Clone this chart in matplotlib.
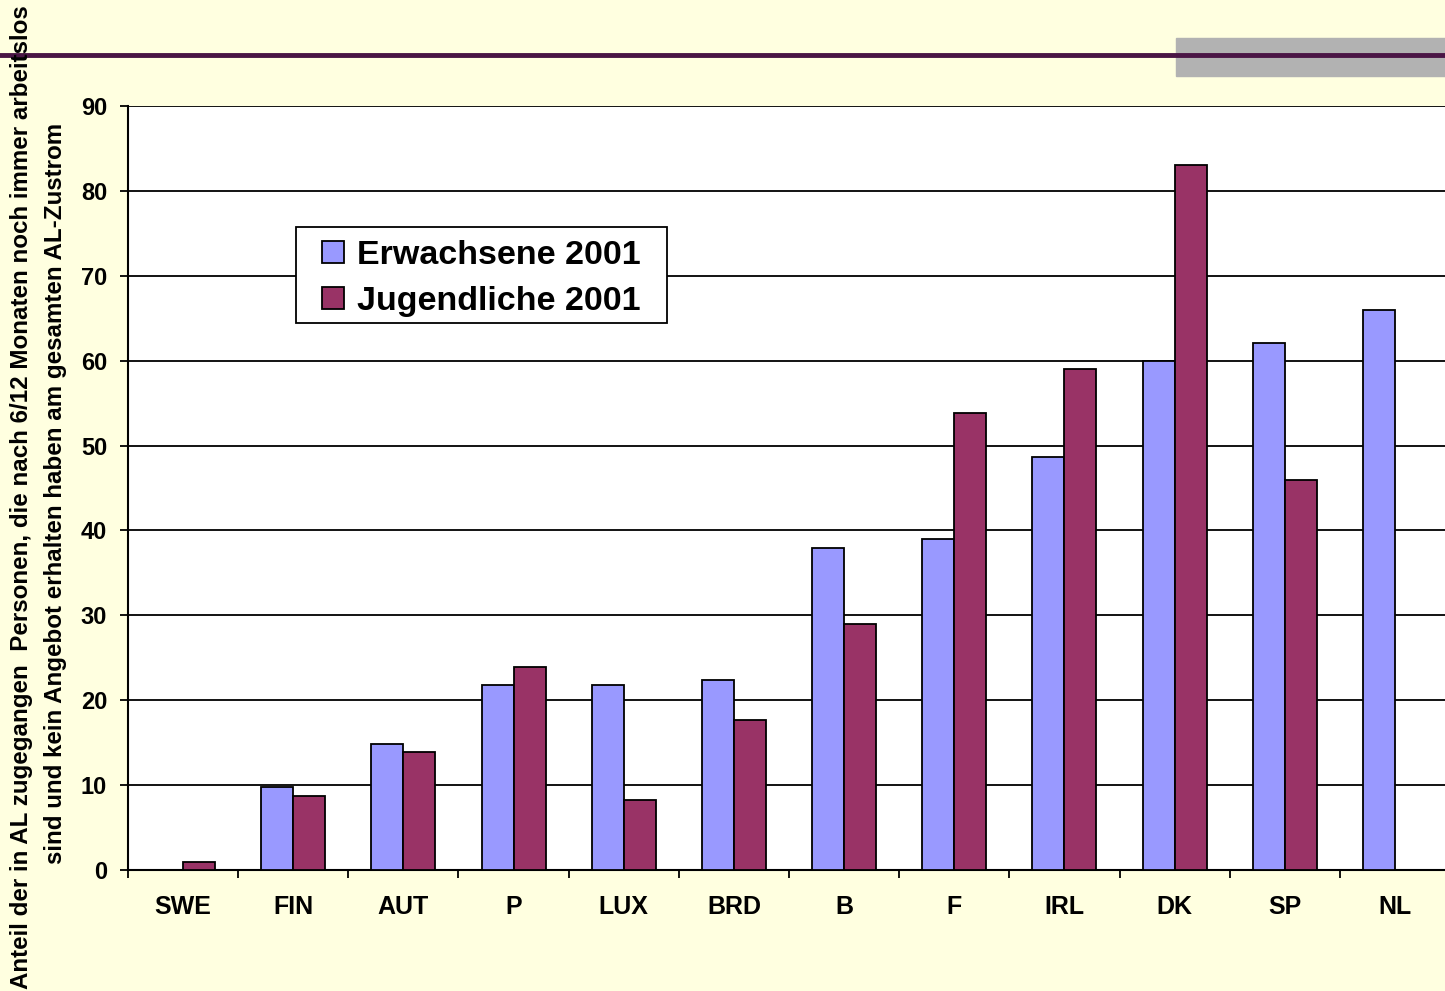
import numpy as np
import matplotlib.pyplot as plt
from matplotlib import font_manager
from matplotlib.patches import Rectangle
from matplotlib.lines import Line2D

# data
laender = ['SWE', 'FIN', 'AUT', 'P', 'LUX', 'BRD', 'B', 'F', 'IRL', 'DK', 'SP', 'NL']
erwachsene = [0, 9.8, 14.8, 21.8, 21.8, 22.4, 37.9, 39.0, 48.6, 60.0, 62.1, 66.0]
jugendliche = [1.0, 8.7, 13.9, 23.9, 8.2, 17.7, 29.0, 53.8, 59.0, 83.0, 45.9, 0]
y_ticks = [0, 10, 20, 30, 40, 50, 60, 70, 80, 90]

plt.rcParams['font.family'] = ['Liberation Sans', 'DejaVu Sans']
plt.rcParams['font.weight'] = 'bold'

W, H = 1445, 991
bg = '#FFFFE0'
fig = plt.figure(figsize=(W/100, H/100), dpi=100, facecolor=bg)

# header decoration: gray block and dark line
fig.patches.append(Rectangle((1176/W, 1-76/H), 269/W, 38/H,
                             transform=fig.transFigure, color='#B2B2B2', zorder=0))
fig.lines.append(Line2D([0, 1], [1-55/H, 1-55/H], transform=fig.transFigure,
                        color='#4A1545', linewidth=3.5, zorder=1))

ax = fig.add_axes([128/W, 1-870/H, (1450-128)/W, (870-106)/H])
ax.set_facecolor('white')

x = np.arange(len(laender))
w = 0.29
ax.bar(x - w/2, erwachsene, w, color='#9999FF', edgecolor='black', linewidth=1.3,
       label='Erwachsene 2001', zorder=3)
ax.bar(x + w/2, jugendliche, w, color='#993366', edgecolor='black', linewidth=1.3,
       label='Jugendliche 2001', zorder=3)

ax.set_xlim(-0.5, len(laender) - 0.5)
ax.set_ylim(0, 90)
ax.set_yticks(y_ticks)
ax.yaxis.grid(True, color='black', linewidth=1.3, zorder=0)
ax.set_axisbelow(True)

ax.set_xticks(x)
ax.set_xticklabels(laender, fontsize=18, fontweight='bold')
ax.set_xticks(np.arange(-0.5, len(laender) + 0.5, 1), minor=True)
ax.tick_params(axis='x', which='major', length=0, pad=18)
ax.tick_params(axis='x', which='minor', length=6, width=1.3, direction='out')
ax.tick_params(axis='y', length=6, width=1.3, pad=9, labelsize=17)
for t in ax.get_yticklabels():
    t.set_fontweight('bold')

for s in ['top', 'right']:
    ax.spines[s].set_visible(False)
ax.spines['left'].set_linewidth(1.5)
ax.spines['bottom'].set_linewidth(1.5)

# legend without frame, box drawn afterwards with wider side padding
leg = ax.legend(loc='upper left', bbox_to_anchor=(322/W, 1-240/H),
                bbox_transform=fig.transFigure, borderaxespad=0, borderpad=0,
                frameon=False, prop={'size': 24.5, 'weight': 'bold'},
                handlelength=0.65, handleheight=0.65, handletextpad=0.38,
                labelspacing=0.44)
leg.set_zorder(6)
fig.canvas.draw()
bb = leg.get_window_extent()
inv = fig.transFigure.inverted()
(x0, y0), (x1, y1) = inv.transform([(bb.x0 - 26, bb.y0 - 6), (bb.x1 + 26, bb.y1 + 13)])
ax.add_patch(Rectangle((x0, y0), x1 - x0, y1 - y0, transform=fig.transFigure,
                       facecolor='white', edgecolor='black', linewidth=1.3,
                       zorder=5, clip_on=False))

# y label, narrow bold font if available
names = {f.name for f in font_manager.fontManager.ttflist}
if 'Liberation Sans Narrow' in names:
    lab_font, lab_size = ['Liberation Sans Narrow', 'DejaVu Sans'], 21
else:
    lab_font, lab_size = ['Liberation Sans', 'DejaVu Sans'], 17.4
fig.text(22/W, 1-497/H, 'Anteil der in AL zugegangen  Personen, die nach 6/12 Monaten noch immer arbeitslos',
         rotation=90, ha='center', va='center', fontsize=lab_size, fontweight='bold',
         family=lab_font)
fig.text(56/W, 1-493/H, 'sind und kein Angebot erhalten haben am gesamten AL-Zustrom',
         rotation=90, ha='center', va='center', fontsize=lab_size, fontweight='bold',
         family=lab_font)

fig.savefig('out.png', dpi=100, facecolor=bg)
